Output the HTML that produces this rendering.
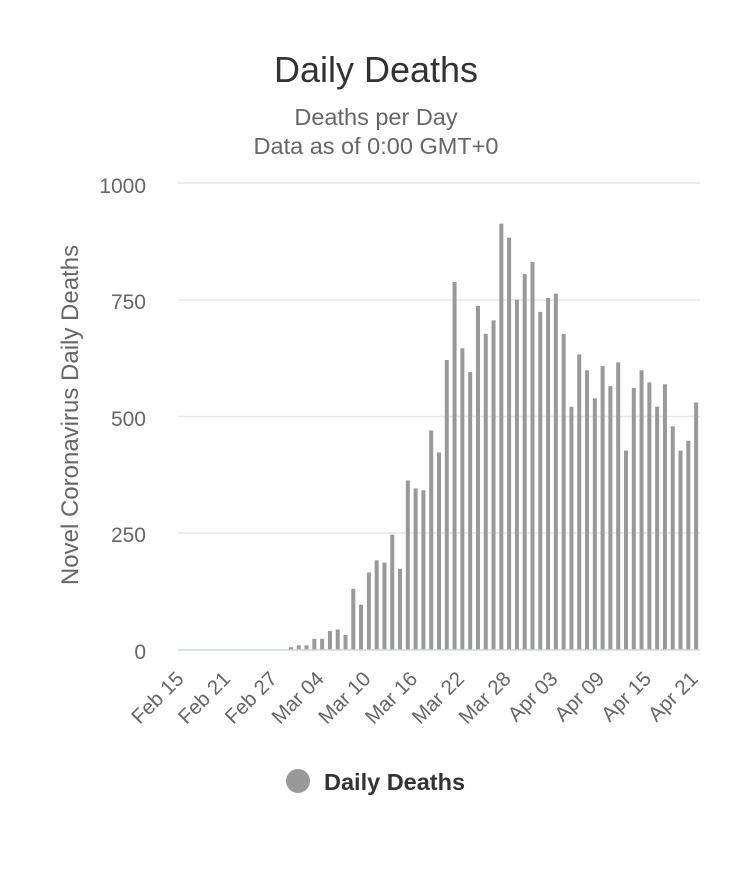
<!DOCTYPE html>
<html><head><meta charset="utf-8"><style>
html,body{margin:0;padding:0;background:#fff;}
svg{display:block;font-family:"Liberation Sans",Arial,sans-serif;}
</style></head><body>
<svg id="c" width="750" height="871" viewBox="0 0 750 871" xmlns="http://www.w3.org/2000/svg">
<rect width="750" height="871" fill="#fff"/>
<text x="376" y="82" text-anchor="middle" font-size="36" fill="#333">Daily Deaths</text>
<text x="376" y="125" text-anchor="middle" font-size="23.5" fill="#666">Deaths per Day</text>
<text x="376" y="154" text-anchor="middle" font-size="23.5" fill="#666">Data as of 0:00 GMT+0</text>
<g id="grid"></g>
<g id="bars" fill="#999"></g>
<line x1="178" y1="650" x2="700" y2="650" stroke="#ccd6eb" stroke-width="1.5"/>
<g font-size="21" fill="#666" text-anchor="end">
<text x="146" y="193">1000</text>
<text x="146" y="309">750</text>
<text x="146" y="426">500</text>
<text x="146" y="542">250</text>
<text x="146" y="659">0</text>
</g>
<text transform="translate(78,415) rotate(-90)" text-anchor="middle" font-size="24" fill="#666">Novel Coronavirus Daily Deaths</text>
<g id="xl" font-size="20.5" fill="#666" text-anchor="end"></g>
<circle cx="298" cy="781" r="12" fill="#999"/>
<text x="324" y="790" font-size="23.5" font-weight="bold" fill="#333">Daily Deaths</text>
</svg>
<script>
var ns="http://www.w3.org/2000/svg";
var g=document.getElementById('grid');
[183,300,416.5,533].forEach(function(y){var l=document.createElementNS(ns,'line');l.setAttribute('x1',178);l.setAttribute('x2',700);l.setAttribute('y1',y);l.setAttribute('y2',y);l.setAttribute('stroke','#e6e6e6');l.setAttribute('stroke-width','1.5');g.appendChild(l);});
var v=[];for(var i=0;i<14;i++)v.push(0);
v=v.concat([6,10,10,24,24,41,44,32,131,97,166,192,187,247,174,363,346,342,470,423,621,788,646,595,737,677,706,913,883,750,805,831,724,754,763,677,521,633,599,539,608,565,616,427,561,599,573,521,569,479,427,448,530]);
var b=document.getElementById('bars');var step=522/67;
v.forEach(function(d,i){if(!d)return;var cx=178+step*(i+0.5);var h=d*0.467;var r=document.createElementNS(ns,'rect');r.setAttribute('x',(cx-2).toFixed(2));r.setAttribute('width',4);r.setAttribute('y',(650-h).toFixed(2));r.setAttribute('height',h.toFixed(2));b.appendChild(r);});
var labs=['Feb 15','Feb 21','Feb 27','Mar 04','Mar 10','Mar 16','Mar 22','Mar 28','Apr 03','Apr 09','Apr 15','Apr 21'];
var xl=document.getElementById('xl');
labs.forEach(function(t,k){var i=k*6;var cx=178+step*(i+0.5)+3;var e=document.createElementNS(ns,'text');e.setAttribute('transform','translate('+cx.toFixed(1)+',680) rotate(-45)');e.textContent=t;xl.appendChild(e);});
</script>
</body></html>
